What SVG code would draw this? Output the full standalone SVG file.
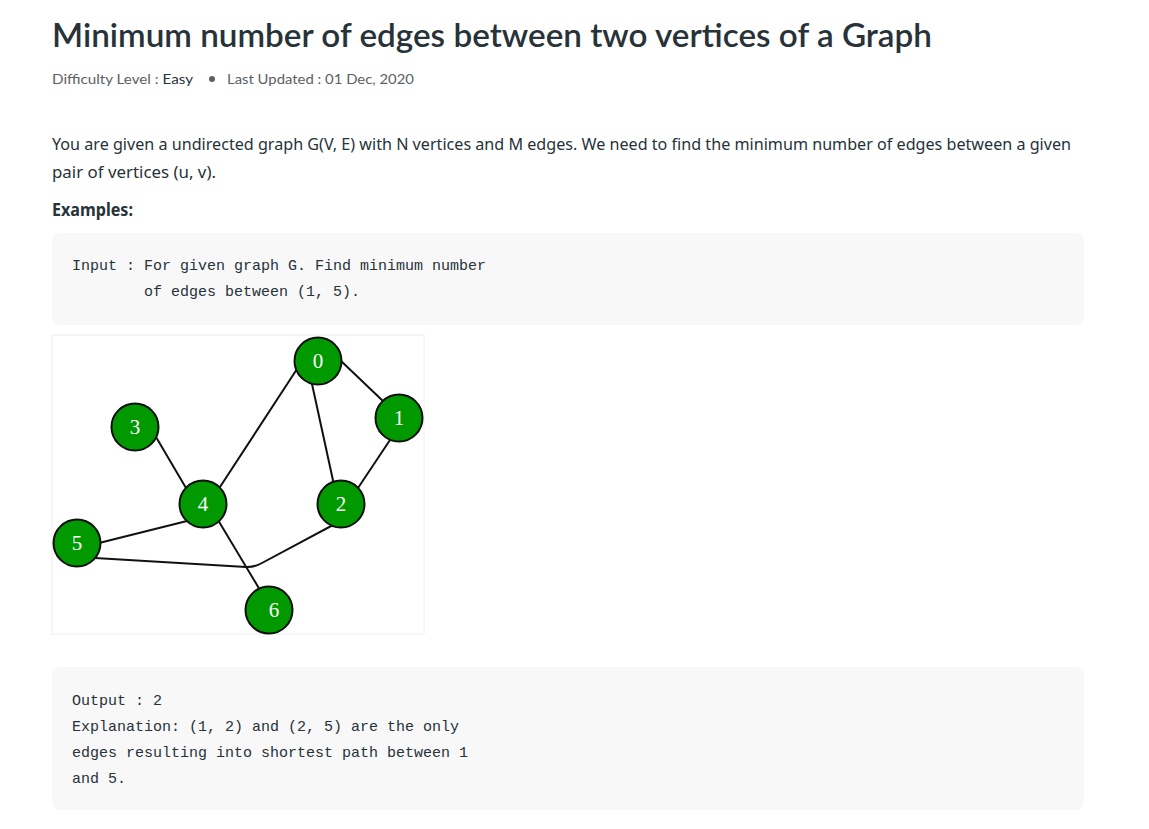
<svg xmlns="http://www.w3.org/2000/svg" width="1149" height="829" viewBox="0 0 1149 829">
<style>
.title{font-family:Lato,"Noto Sans",sans-serif;font-size:32px;font-weight:600;fill:#273239}
.sub{font-family:Lato,"Noto Sans",sans-serif;font-size:14px;fill:#5b6065}
.para{font-family:"Noto Sans","Liberation Sans",sans-serif;font-size:17px;fill:#273239}
.bold{font-weight:bold}
.code{font-family:"Liberation Mono","DejaVu Sans Mono",monospace;font-size:15px;fill:#273239}
.box{fill:#f8f8f8}
.edge{stroke:#111;stroke-width:2;fill:none;stroke-linecap:round}
.node circle{fill:#009900;stroke:#111;stroke-width:2}
.node text{font-family:"Liberation Serif","DejaVu Serif",serif;font-size:21px;fill:#fff;text-anchor:middle}
</style>
<rect width="1149" height="829" fill="#fff"/>
<text class="title" x="52" y="47" textLength="880" lengthAdjust="spacingAndGlyphs">Minimum number of edges between two vertices of a Graph</text>
<text class="sub" x="52" y="84" textLength="141" lengthAdjust="spacingAndGlyphs">Difficulty Level : <tspan fill="#273239">Easy</tspan></text>
<circle cx="212" cy="79" r="3" fill="#5b6065"/>
<text class="sub" x="227" y="84" textLength="187" lengthAdjust="spacingAndGlyphs">Last Updated : 01 Dec, 2020</text>
<text class="para" x="52" y="150" textLength="1019" lengthAdjust="spacingAndGlyphs">You are given a undirected graph G(V, E) with N vertices and M edges. We need to find the minimum number of edges between a given</text>
<text class="para" x="52" y="178" textLength="164" lengthAdjust="spacingAndGlyphs">pair of vertices (u, v).</text>
<text class="para bold" x="52" y="216" textLength="81" lengthAdjust="spacingAndGlyphs">Examples:</text>
<rect class="box" x="52" y="233" width="1032" height="92" rx="8"/>
<text class="code" x="72" y="270" xml:space="preserve">Input : For given graph G. Find minimum number</text>
<text class="code" x="72" y="296" xml:space="preserve">        of edges between (1, 5).</text>
<rect x="52" y="335" width="372" height="299" fill="#fff" stroke="#eee" stroke-width="1"/>
<g id="connectors">
<line class="edge" x1="340" y1="360" x2="384" y2="402"/>
<line class="edge" x1="297" y1="369" x2="218" y2="490"/>
<line class="edge" x1="312" y1="384" x2="334" y2="485"/>
<line class="edge" x1="390" y1="440" x2="358" y2="488"/>
<line class="edge" x1="156" y1="437" x2="186" y2="488"/>
<line class="edge" x1="187" y1="521" x2="99" y2="543"/>
<line class="edge" x1="218" y1="520" x2="260" y2="590"/>
<path class="edge" d="M95 558 L246 567 Q254 567.5 262 563 L333 525"/>
</g>
<g id="node-0" class="node"><circle cx="318" cy="361" r="23.5"/><text x="318" y="368">0</text></g>
<g id="node-1" class="node"><circle cx="399" cy="418" r="23.5"/><text x="399" y="425">1</text></g>
<g id="node-2" class="node"><circle cx="341" cy="504" r="23.5"/><text x="341" y="511">2</text></g>
<g id="node-3" class="node"><circle cx="135" cy="427" r="23.5"/><text x="135" y="434">3</text></g>
<g id="node-4" class="node"><circle cx="203" cy="504" r="23.5"/><text x="203" y="511">4</text></g>
<g id="node-5" class="node"><circle cx="77" cy="543" r="23.5"/><text x="77" y="550">5</text></g>
<g id="node-6" class="node"><circle cx="269" cy="610" r="23.5"/><text x="274" y="617">6</text></g>
<rect class="box" x="52" y="667" width="1032" height="143" rx="8"/>
<text class="code" x="72" y="705" xml:space="preserve">Output : 2</text>
<text class="code" x="72" y="731" xml:space="preserve">Explanation: (1, 2) and (2, 5) are the only</text>
<text class="code" x="72" y="757" xml:space="preserve">edges resulting into shortest path between 1</text>
<text class="code" x="72" y="783" xml:space="preserve">and 5.</text>
</svg>
